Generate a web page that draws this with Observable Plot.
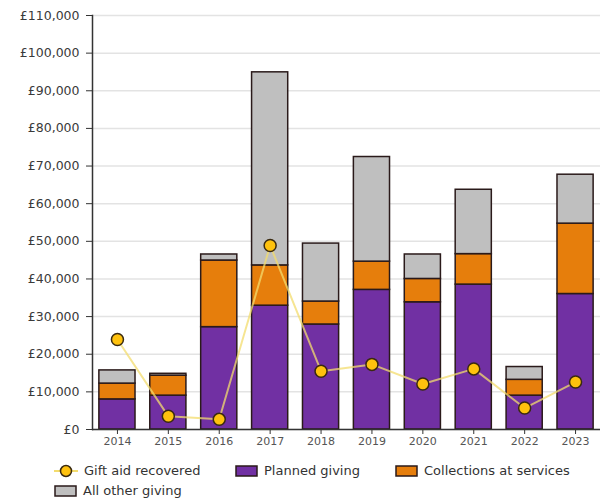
<!DOCTYPE html>
<html>
<head>
<meta charset="utf-8">
<script src="https://cdn.jsdelivr.net/npm/d3@7"></script>
<script src="https://cdn.jsdelivr.net/npm/@observablehq/plot@0.6"></script>
<style>
  body { margin: 0; background: #fff; font-family: "DejaVu Sans", Verdana, sans-serif; }
  #legend { position: relative; height: 49px; font-size: 13px; color: #333; }
  .item { position: absolute; display: flex; align-items: center; white-space: nowrap; }
  .item svg { margin-right: 6px; }
</style>
</head>
<body>
<div id="chart"></div>
<div id="legend"></div>
<script>
const years = ["2014","2015","2016","2017","2018","2019","2020","2021","2022","2023"];
const plannedGiving = [8000, 9000, 27200, 32900, 27900, 37100, 33800, 38500, 9000, 36000];
const collections   = [4200, 5300, 17700, 10700, 6100, 7500, 6200, 8100, 4200, 18700];
const otherGiving   = [3500, 500, 1600, 51300, 15400, 27800, 6500, 17100, 3400, 13000];
const giftAid       = [23900, 3500, 2700, 48900, 15500, 17300, 12100, 16100, 5700, 12600];
const seriesNames = ["Planned giving", "Collections at services", "All other giving"];
const seriesColors = ["#7130a3", "#e67e0c", "#bfbfbf"];
const yTicks = [0,10000,20000,30000,40000,50000,60000,70000,80000,90000,100000,110000];

const stacked = [];
years.forEach((yr, i) => {
  stacked.push({year: yr, series: seriesNames[0], value: plannedGiving[i]});
  stacked.push({year: yr, series: seriesNames[1], value: collections[i]});
  stacked.push({year: yr, series: seriesNames[2], value: otherGiving[i]});
});
const aid = years.map((yr, i) => ({year: yr, value: giftAid[i]}));
const fmt = v => "£" + d3.format(",")(v);

const chart = Plot.plot({
  width: 600,
  height: 452,
  marginTop: 15,
  marginBottom: 23,
  marginLeft: 92,
  marginRight: 0,
  style: {fontFamily: "'DejaVu Sans', Verdana, sans-serif", fontSize: "12px", color: "#333"},
  x: {domain: years, paddingInner: 0.29, paddingOuter: 0.135, round: false, label: null},
  y: {domain: [0, 110000], label: null},
  color: {domain: seriesNames, range: seriesColors},
  marks: [
    Plot.gridY(yTicks, {stroke: "#e3e3e3", strokeOpacity: 1, strokeWidth: 1.5}),
    Plot.barY(stacked, {x: "year", y: "value", fill: "series", order: seriesNames, stroke: "#2a1a1a", strokeWidth: 1.5}),
    Plot.line(aid, {x: "year", y: "value", stroke: "#f3dc6e", strokeWidth: 2, strokeOpacity: 0.75}),
    Plot.dot(aid, {x: "year", y: "value", r: 6, fill: "#ffc20e", stroke: "#3a2a10", strokeWidth: 1.5}),
    Plot.axisY({ticks: yTicks, tickFormat: fmt, tickSize: 6, tickPadding: 7, fontSize: 12.5, fill: "#3a3a3a"}),
    Plot.axisX({tickSize: 5, tickPadding: 3, fontSize: 11, fill: "#555"}),
    Plot.frame({anchor: "left", stroke: "#333", strokeWidth: 1.5}),
    Plot.ruleY([0], {stroke: "#333", strokeWidth: 1.5})
  ]
});
document.getElementById("chart").appendChild(chart);

// legend
const legend = document.getElementById("legend");
const items = [
  {name: "Gift aid recovered", type: "dot", left: 54, top: 11},
  {name: seriesNames[0], type: "rect", color: seriesColors[0], left: 235, top: 11},
  {name: seriesNames[1], type: "rect", color: seriesColors[1], left: 395, top: 11},
  {name: seriesNames[2], type: "rect", color: seriesColors[2], left: 54, top: 31}
];
items.forEach(it => {
  const div = document.createElement("div");
  div.className = "item";
  div.style.left = it.left + "px";
  div.style.top = it.top + "px";
  let sw;
  if (it.type === "dot") {
    sw = `<svg width="24" height="14"><line x1="0" y1="7" x2="24" y2="7" stroke="#f3dc6e" stroke-width="2"/><circle cx="12" cy="7" r="5.5" fill="#ffc20e" stroke="#3a2a10" stroke-width="1.5"/></svg>`;
  } else {
    sw = `<svg width="23" height="14"><rect x="1" y="2" width="21" height="10" fill="${it.color}" stroke="#2a1a1a" stroke-width="1.5"/></svg>`;
  }
  div.innerHTML = sw + `<span>${it.name}</span>`;
  legend.appendChild(div);
});
</script>
</body>
</html>
